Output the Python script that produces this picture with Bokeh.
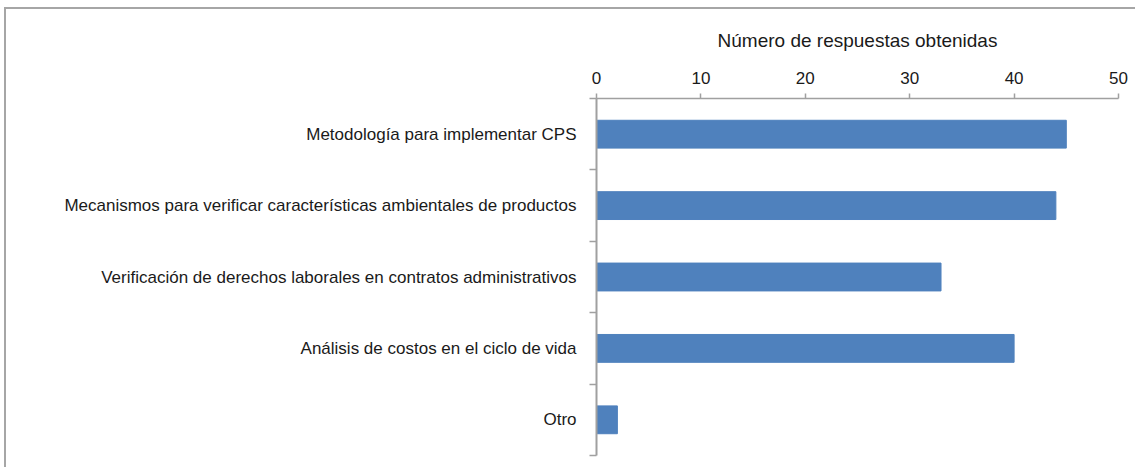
from bokeh.plotting import figure
from bokeh.models import FactorRange, Range1d, LinearAxis, CategoricalAxis, FixedTicker, ColumnDataSource
from bokeh.embed import file_html
from bokeh.resources import INLINE

categories = [
    "Metodología para implementar CPS",
    "Mecanismos para verificar características ambientales de productos",
    "Verificación de derechos laborales en contratos administrativos",
    "Análisis de costos en el ciclo de vida",
    "Otro",
]
values = [45, 44, 33, 40, 2]
x_ticks = [0, 10, 20, 30, 40, 50]
axis_title = "Número de respuestas obtenidas"

FONT = "Liberation Sans"
TXT = "#1a1a1a"
GRAY = "#a0a0a0"

source = ColumnDataSource(dict(cat=categories, val=values))

p = figure(
    y_range=FactorRange(factors=list(reversed(categories))),
    x_range=Range1d(0, 50),
    frame_width=522, frame_height=357,
    min_border_left=590, min_border_right=17, min_border_top=89, min_border_bottom=12,
    x_axis_location=None, y_axis_location=None,
    output_backend="svg", toolbar_location=None,
)
p.styles = {"border-top": "2px solid #a6a6a6", "border-left": "2px solid #a6a6a6",
            "margin-left": "4px", "margin-top": "7px"}
p.outline_line_color = None
p.xgrid.visible = False
p.ygrid.visible = False

p.hbar(y="cat", right="val", left=0, height=0.39, source=source,
       fill_color="#4f81bd", line_color="#4f81bd")

# top value axis
xa = LinearAxis(ticker=FixedTicker(ticks=x_ticks), axis_label=axis_title)
xa.axis_line_color = GRAY
xa.axis_line_width = 1.5
xa.major_tick_line_color = GRAY
xa.major_tick_line_width = 1.5
xa.major_tick_in = 0
xa.major_tick_out = 5
xa.minor_tick_line_color = None
xa.major_label_standoff = 10
xa.major_label_text_font = FONT
xa.major_label_text_font_size = "17px"
xa.major_label_text_color = TXT
xa.axis_label_text_font = FONT
xa.axis_label_text_font_size = "19px"
xa.axis_label_text_font_style = "normal"
xa.axis_label_text_color = TXT
xa.axis_label_standoff = 18
p.add_layout(xa, "above")

# category boundary ticks (drawn as minor ticks, no labels)
ta = LinearAxis(ticker=FixedTicker(ticks=[], minor_ticks=[0, 1, 2, 3, 4, 5]))
ta.axis_line_color = GRAY
ta.axis_line_width = 2
ta.major_tick_line_color = None
ta.minor_tick_line_color = GRAY
ta.minor_tick_line_width = 1.5
ta.minor_tick_in = 0
ta.minor_tick_out = 7
ta.major_label_standoff = 0
p.add_layout(ta, "left")

# category labels
ca = CategoricalAxis()
ca.axis_line_color = None
ca.major_tick_line_color = None
ca.major_tick_in = 0
ca.major_tick_out = 0
ca.major_label_standoff = 13
ca.major_label_text_font = FONT
ca.major_label_text_font_size = "17px"
ca.major_label_text_color = TXT
p.add_layout(ca, "left")

open("out.html", "w").write(file_html(p, INLINE))
